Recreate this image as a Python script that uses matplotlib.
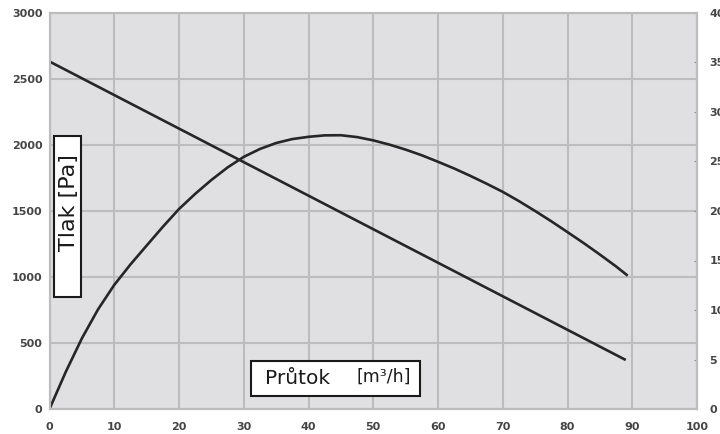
import matplotlib.pyplot as plt
from matplotlib.patches import Rectangle

# Fan curve: pressure vs. flow, plus straight line on the right axis

flow = [0, 2.5, 5, 7.5, 10, 12.5, 15, 17.5, 20, 22.5, 25, 27.5, 30, 32.5, 35,
        37.5, 40, 42.5, 45, 47.5, 50, 52.5, 55, 57.5, 60, 62.5, 65, 67.5, 70,
        72.5, 75, 77.5, 80, 82.5, 85, 87.5, 89.3]
pressure = [0, 280, 535, 755, 940, 1095, 1238, 1380, 1515, 1630, 1735, 1830,
            1910, 1970, 2015, 2045, 2062, 2073, 2074, 2060, 2035, 2003, 1965,
            1922, 1873, 1822, 1766, 1707, 1645, 1575, 1500, 1422, 1340, 1257,
            1170, 1080, 1010]

line_flow = [0, 89]
line_right = [35.1, 4.95]

W, H = 720, 434


def fx(px):
    return px / W


def fy(py):
    return (H - py) / H


fig = plt.figure(figsize=(7.2, 4.34), dpi=100)
ax = fig.add_axes([fx(49.5), fy(409), fx(697) - fx(49.5), fy(13) - fy(409)])
ax2 = ax.twinx()

grid_c = '#bcbcbc'
ax.set_facecolor('#e0e0e2')
ax.set_xlim(0, 100)
ax.set_ylim(0, 3000)
ax2.set_ylim(0, 40)
ax.set_xticks(range(0, 101, 10))
ax.set_yticks(range(0, 3001, 500))
ax2.set_yticks(range(0, 41, 5))
ax.grid(True, color=grid_c, linewidth=1.5)
ax.set_axisbelow(True)

for a in (ax, ax2):
    for s in a.spines.values():
        s.set_color(grid_c)
        s.set_linewidth(1.5)

ax.tick_params(axis='y', length=0, pad=5)
ax.tick_params(axis='x', length=0, pad=9)
ax2.tick_params(axis='y', length=2, direction='in', color='#909090', pad=9)
for lbl in ax.get_xticklabels() + ax.get_yticklabels() + ax2.get_yticklabels():
    lbl.set_fontsize(8)
    lbl.set_fontweight('bold')
    lbl.set_color('#454545')

line_c = '#262626'
ax.plot(flow, pressure, color=line_c, linewidth=1.9, solid_capstyle='butt',
        solid_joinstyle='round')
ax2.plot(line_flow, line_right, color=line_c, linewidth=1.9, solid_capstyle='butt')

# label boxes
fig.add_artist(Rectangle((fx(54), fy(297)), fx(81) - fx(54), fy(136) - fy(297),
                         transform=fig.transFigure, facecolor='white',
                         edgecolor='#1a1a1a', linewidth=1.5, zorder=5))
fig.text(fx(68.5), fy(251), 'Tlak [Pa]', rotation=90, ha='center', va='bottom',
         fontsize=16, color='#1a1a1a', zorder=6)

fig.add_artist(Rectangle((fx(251), fy(396)), fx(420) - fx(251), fy(361) - fy(396),
                         transform=fig.transFigure, facecolor='white',
                         edgecolor='#1a1a1a', linewidth=1.5, zorder=5))
fig.text(fx(265), fy(379), 'Průtok', ha='left', va='center',
         fontsize=14.5, color='#1a1a1a', zorder=6)
fig.text(fx(357), fy(377), '[m³/h]', ha='left', va='center',
         fontsize=12.5, color='#1a1a1a', zorder=6)

plt.savefig('out.png', dpi=100)
